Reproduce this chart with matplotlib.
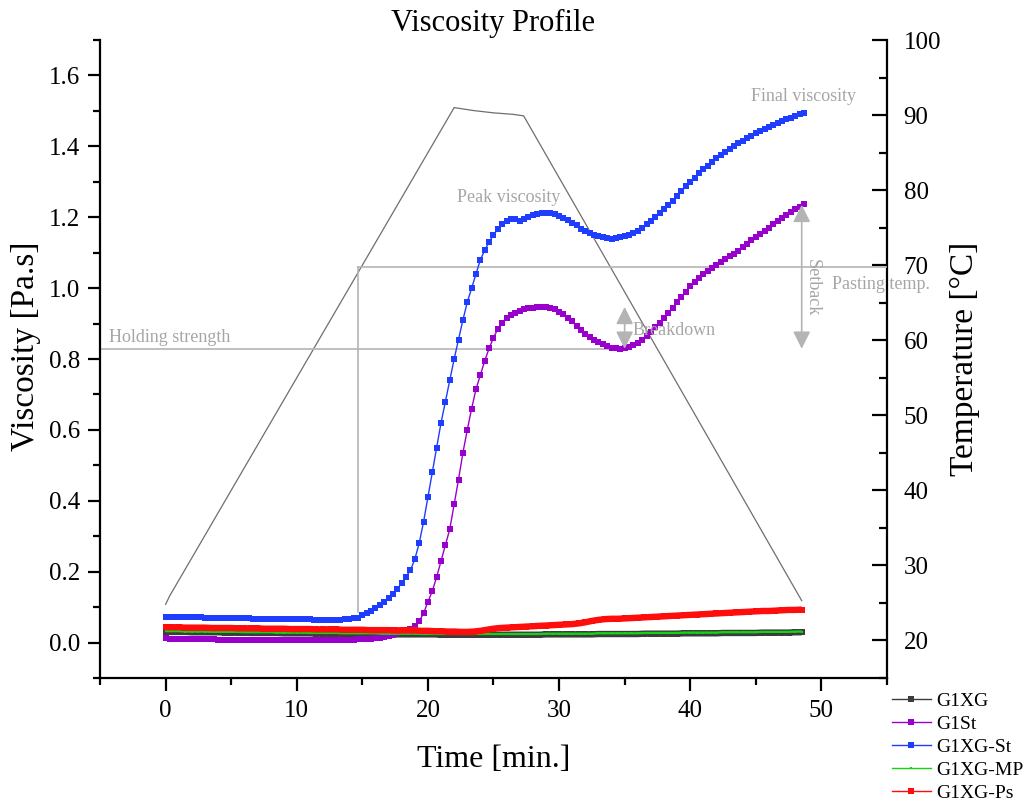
import numpy as np
import matplotlib
matplotlib.use("Agg")
import matplotlib.pyplot as plt
from matplotlib.ticker import MultipleLocator

plt.rcParams['font.family'] = ['Liberation Serif', 'DejaVu Serif']

# pasting curves logged every 20 s, the flat blends every 30 s
time_fine = np.arange(147) / 3.0
time_coarse = np.arange(0, 48.51, 0.5)

# G1St, three readings per minute (0-48 min)
g1st = [0.012, 0.011, 0.011, 0.010, 0.010, 0.010, 0.009, 0.009, 0.009,
        0.009, 0.009, 0.009, 0.008, 0.008, 0.008, 0.008, 0.008, 0.008,
        0.008, 0.008, 0.008, 0.008, 0.008, 0.008, 0.008, 0.008, 0.008,
        0.008, 0.008, 0.008, 0.008, 0.008, 0.008, 0.008, 0.008, 0.008,
        0.008, 0.008, 0.008, 0.008, 0.008, 0.008, 0.008, 0.008, 0.009,
        0.009, 0.010, 0.010, 0.012, 0.013, 0.015, 0.019, 0.022, 0.026,
        0.031, 0.034, 0.038, 0.048, 0.060, 0.082, 0.115, 0.145, 0.185,
        0.23, 0.275, 0.32, 0.39, 0.46, 0.535, 0.60, 0.66, 0.715,
        0.755, 0.795, 0.83, 0.86, 0.885, 0.903, 0.915, 0.924, 0.931,
        0.936, 0.940, 0.943, 0.945, 0.947, 0.947, 0.946, 0.944, 0.940,
        0.934, 0.926, 0.917, 0.906, 0.894, 0.882, 0.870, 0.861, 0.853,
        0.847, 0.841, 0.836, 0.832, 0.830, 0.829, 0.830, 0.833, 0.839,
        0.846, 0.855, 0.865, 0.876, 0.889, 0.902, 0.915, 0.930, 0.945,
        0.960, 0.975, 0.990, 1.005, 1.017, 1.029, 1.039, 1.048, 1.057,
        1.066, 1.074, 1.082, 1.090, 1.097, 1.105, 1.115, 1.125, 1.135,
        1.145, 1.154, 1.162, 1.171, 1.180, 1.189, 1.198, 1.206, 1.214,
        1.222, 1.230, 1.238]

# G1XG-St, three readings per minute (0-48 min)
g1xg_st = [0.072, 0.072, 0.072, 0.072, 0.071, 0.071, 0.071, 0.071, 0.071,
           0.070, 0.070, 0.070, 0.069, 0.069, 0.069, 0.068, 0.068, 0.068,
           0.068, 0.068, 0.067, 0.067, 0.067, 0.067, 0.066, 0.066, 0.066,
           0.066, 0.066, 0.065, 0.065, 0.065, 0.065, 0.065, 0.064, 0.064,
           0.064, 0.064, 0.064, 0.064, 0.064, 0.065, 0.066, 0.068, 0.070,
           0.077, 0.082, 0.089, 0.097, 0.105, 0.114, 0.126, 0.138, 0.151,
           0.168, 0.186, 0.204, 0.235, 0.28, 0.34, 0.41, 0.48, 0.55,
           0.62, 0.68, 0.74, 0.80, 0.855, 0.91, 0.96, 1.00, 1.04,
           1.08, 1.107, 1.13, 1.15, 1.167, 1.18, 1.19, 1.194, 1.196,
           1.19, 1.195, 1.20, 1.205, 1.208, 1.211, 1.213, 1.212, 1.209,
           1.203, 1.198, 1.192, 1.185, 1.177, 1.168, 1.16, 1.155, 1.15,
           1.146, 1.143, 1.141, 1.14, 1.141, 1.143, 1.146, 1.150, 1.155,
           1.162, 1.170, 1.180, 1.19, 1.200, 1.211, 1.222, 1.234, 1.247,
           1.26, 1.273, 1.287, 1.30, 1.312, 1.324, 1.335, 1.346, 1.357,
           1.367, 1.376, 1.384, 1.393, 1.401, 1.409, 1.416, 1.423, 1.430,
           1.437, 1.444, 1.450, 1.456, 1.461, 1.467, 1.472, 1.477, 1.481,
           1.486, 1.490, 1.494]

g1xg = [0.030, 0.030, 0.030, 0.030, 0.029, 0.029, 0.029, 0.029, 0.029, 0.028,
        0.028, 0.028, 0.028, 0.027, 0.027, 0.027, 0.027, 0.027, 0.026, 0.026,
        0.026, 0.026, 0.026, 0.025, 0.025, 0.025, 0.025, 0.025, 0.024, 0.024,
        0.024, 0.024, 0.024, 0.024, 0.023, 0.023, 0.023, 0.023, 0.023, 0.023,
        0.023, 0.023, 0.022, 0.022, 0.022, 0.022, 0.022, 0.022, 0.022, 0.022,
        0.022, 0.022, 0.022, 0.022, 0.022, 0.022, 0.022, 0.022, 0.023, 0.023,
        0.023, 0.023, 0.023, 0.023, 0.023, 0.023, 0.024, 0.024, 0.024, 0.024,
        0.024, 0.024, 0.024, 0.025, 0.025, 0.025, 0.025, 0.025, 0.025, 0.026,
        0.026, 0.026, 0.026, 0.026, 0.026, 0.027, 0.027, 0.027, 0.027, 0.027,
        0.027, 0.028, 0.028, 0.028, 0.028, 0.028, 0.029, 0.029]

g1xg_mp = [0.032, 0.032, 0.032, 0.031, 0.031, 0.031, 0.031, 0.030, 0.030, 0.030,
           0.030, 0.030, 0.029, 0.029, 0.029, 0.029, 0.029, 0.028, 0.028, 0.028,
           0.028, 0.028, 0.027, 0.027, 0.027, 0.027, 0.027, 0.026, 0.026, 0.026,
           0.026, 0.026, 0.026, 0.025, 0.025, 0.025, 0.025, 0.025, 0.025, 0.024,
           0.024, 0.024, 0.024, 0.024, 0.024, 0.024, 0.024, 0.024, 0.024, 0.024,
           0.024, 0.024, 0.024, 0.024, 0.024, 0.024, 0.024, 0.024, 0.025, 0.025,
           0.025, 0.025, 0.025, 0.025, 0.025, 0.025, 0.026, 0.026, 0.026, 0.026,
           0.026, 0.026, 0.026, 0.027, 0.027, 0.027, 0.027, 0.027, 0.027, 0.028,
           0.028, 0.028, 0.028, 0.028, 0.028, 0.029, 0.029, 0.029, 0.029, 0.029,
           0.029, 0.030, 0.030, 0.030, 0.030, 0.030, 0.031, 0.031]

g1xg_ps = [0.043, 0.043, 0.043, 0.042, 0.042, 0.042, 0.042, 0.041, 0.041, 0.041,
           0.041, 0.040, 0.040, 0.040, 0.040, 0.039, 0.039, 0.039, 0.039, 0.038,
           0.038, 0.038, 0.038, 0.037, 0.037, 0.037, 0.037, 0.036, 0.036, 0.036,
           0.036, 0.035, 0.035, 0.035, 0.035, 0.034, 0.034, 0.034, 0.034, 0.033,
           0.033, 0.032, 0.032, 0.031, 0.031, 0.030, 0.030, 0.031, 0.033, 0.036,
           0.039, 0.041, 0.042, 0.043, 0.044, 0.045, 0.046, 0.047, 0.048, 0.049,
           0.050, 0.051, 0.052, 0.054, 0.057, 0.061, 0.064, 0.066, 0.067, 0.067,
           0.068, 0.069, 0.070, 0.071, 0.072, 0.073, 0.074, 0.075, 0.076, 0.077,
           0.078, 0.079, 0.080, 0.081, 0.082, 0.083, 0.084, 0.085, 0.086, 0.087,
           0.088, 0.089, 0.089, 0.090, 0.091, 0.092, 0.092, 0.093]

# temperature program (right axis)
temp_time = [0, 0.3, 22.0, 23.5, 25.0, 26.5, 27.3, 48.5]
temp_c = [24.8, 25.9, 91.0, 90.6, 90.3, 90.1, 89.9, 25.3]

# landmarks of the profile
pasting_time = 14.7
pasting_visc = 1.06
pasting_base = 0.085
holding_visc = 0.829
breakdown_time = 35.0
peak_visc_st = 0.947
setback_time = 48.5
final_visc_st = 1.235

# name, time base, values, colour, marker size, backing band width
series = [
    ("G1XG", time_coarse, g1xg, "#3c3c3c", 4.8, 4.6),
    ("G1St", time_fine, g1st, "#9a00cc", 4.8, 0),
    ("G1XG-St", time_fine, g1xg_st, "#1f3dff", 4.8, 0),
    ("G1XG-MP", time_coarse, g1xg_mp, "#14d214", 2.0, 1.6),
    ("G1XG-Ps", time_coarse, g1xg_ps, "#ff0d0d", 4.8, 4.6),
]

fig = plt.figure(figsize=(10.28, 8.01), dpi=100)
ax = fig.add_axes([0.0973, 0.1536, 0.7655, 0.7964])
ax2 = ax.twinx()
ax.set_zorder(ax2.get_zorder() + 1)
ax.patch.set_visible(False)

ax2.plot(temp_time, temp_c, color="#6e6e6e", lw=0.9)

handles = []
for name, tt, vals, col, ms, band in series:
    if band:
        ax.plot(tt, vals, color=col, lw=band, solid_capstyle="butt")
    h, = ax.plot(tt, vals, color=col, lw=1.0, marker="s", ms=ms,
                 markeredgewidth=0, label=name)
    handles.append(h)

ref_grey = "#b4b4b4"
txt_grey = "#a6a6a6"
ax.plot([pasting_time, 55], [pasting_visc, pasting_visc], color=ref_grey, lw=1.2, zorder=1)
ax.plot([pasting_time, pasting_time], [pasting_base, pasting_visc], color=ref_grey, lw=1.2, zorder=1)
ax.plot([-5, breakdown_time], [holding_visc, holding_visc], color=ref_grey, lw=1.2, zorder=1)

arrow = dict(arrowstyle="<|-|>,head_length=0.7,head_width=0.35", color=ref_grey,
             lw=1.2, mutation_scale=15, shrinkA=0, shrinkB=0)
ax.annotate("", xy=(breakdown_time, peak_visc_st), xytext=(breakdown_time, holding_visc),
            arrowprops=arrow)
ax.annotate("", xy=(setback_time, final_visc_st), xytext=(setback_time, holding_visc),
            arrowprops=arrow)

tk = dict(color=txt_grey, fontsize=13)
ax.text(22.2, 1.255, "Peak viscosity", **tk, va="center")
ax.text(44.6, 1.54, "Final viscosity", **tk, va="center")
ax.text(50.8, 1.01, "Pasting temp.", **tk, va="center", clip_on=False)
ax.text(-4.3, 0.862, "Holding strength", **tk, va="center")
ax.text(35.6, 0.88, "Breakdown", **tk, va="center")
ax.text(49.3, 1.0, "Setback", **tk, va="center", ha="center", rotation=270)

ax.set_xlim(-5, 55)
ax.set_ylim(-0.1, 1.7)
ax2.set_ylim(15, 100)

ax.xaxis.set_major_locator(MultipleLocator(10))
ax.xaxis.set_minor_locator(MultipleLocator(5))
ax.yaxis.set_major_locator(MultipleLocator(0.2))
ax.yaxis.set_minor_locator(MultipleLocator(0.1))
ax.yaxis.set_major_formatter(plt.FuncFormatter(lambda v, p: f"{v:.1f}"))
ax2.yaxis.set_major_locator(MultipleLocator(10))
ax2.yaxis.set_minor_locator(MultipleLocator(5))

for a in (ax, ax2):
    for s in a.spines.values():
        s.set_linewidth(1.6)
    a.spines["top"].set_visible(False)
ax.spines["right"].set_visible(False)
ax2.spines["left"].set_visible(False)
ax2.spines["bottom"].set_visible(False)

ax.tick_params(axis="both", which="major", direction="out", length=9, width=1.6,
               labelsize=18, pad=5)
ax.tick_params(axis="both", which="minor", direction="out", length=5, width=1.6)
ax.tick_params(axis="x", which="major", pad=7)
ax2.tick_params(axis="y", which="major", direction="in", length=11, width=1.6,
                labelsize=18, pad=12)
ax2.tick_params(axis="y", which="minor", direction="in", length=6, width=1.6)

fig.text(0.48, 1 - 23 / 801, "Viscosity Profile", ha="center", va="center", fontsize=22)
ax.set_ylabel("Viscosity [Pa.s]", fontsize=24)
ax.yaxis.set_label_coords(-0.075, 0.52)
ax2.set_ylabel("Temperature [°C]", fontsize=24, rotation=90)
ax2.yaxis.set_label_coords(1.08, 0.5)
ax.set_xlabel("Time [min.]", fontsize=23)
ax.xaxis.set_label_coords(0.5, -0.105)

fig.legend(handles, [h.get_label() for h in handles], loc="upper left",
           bbox_to_anchor=(888 / 1028, 1 - 688 / 801), frameon=False,
           fontsize=14, handlelength=2.0, handletextpad=0.3, labelspacing=0.28,
           borderpad=0.2, borderaxespad=0, markerscale=0.85)

fig.savefig("out.png", dpi=100)
